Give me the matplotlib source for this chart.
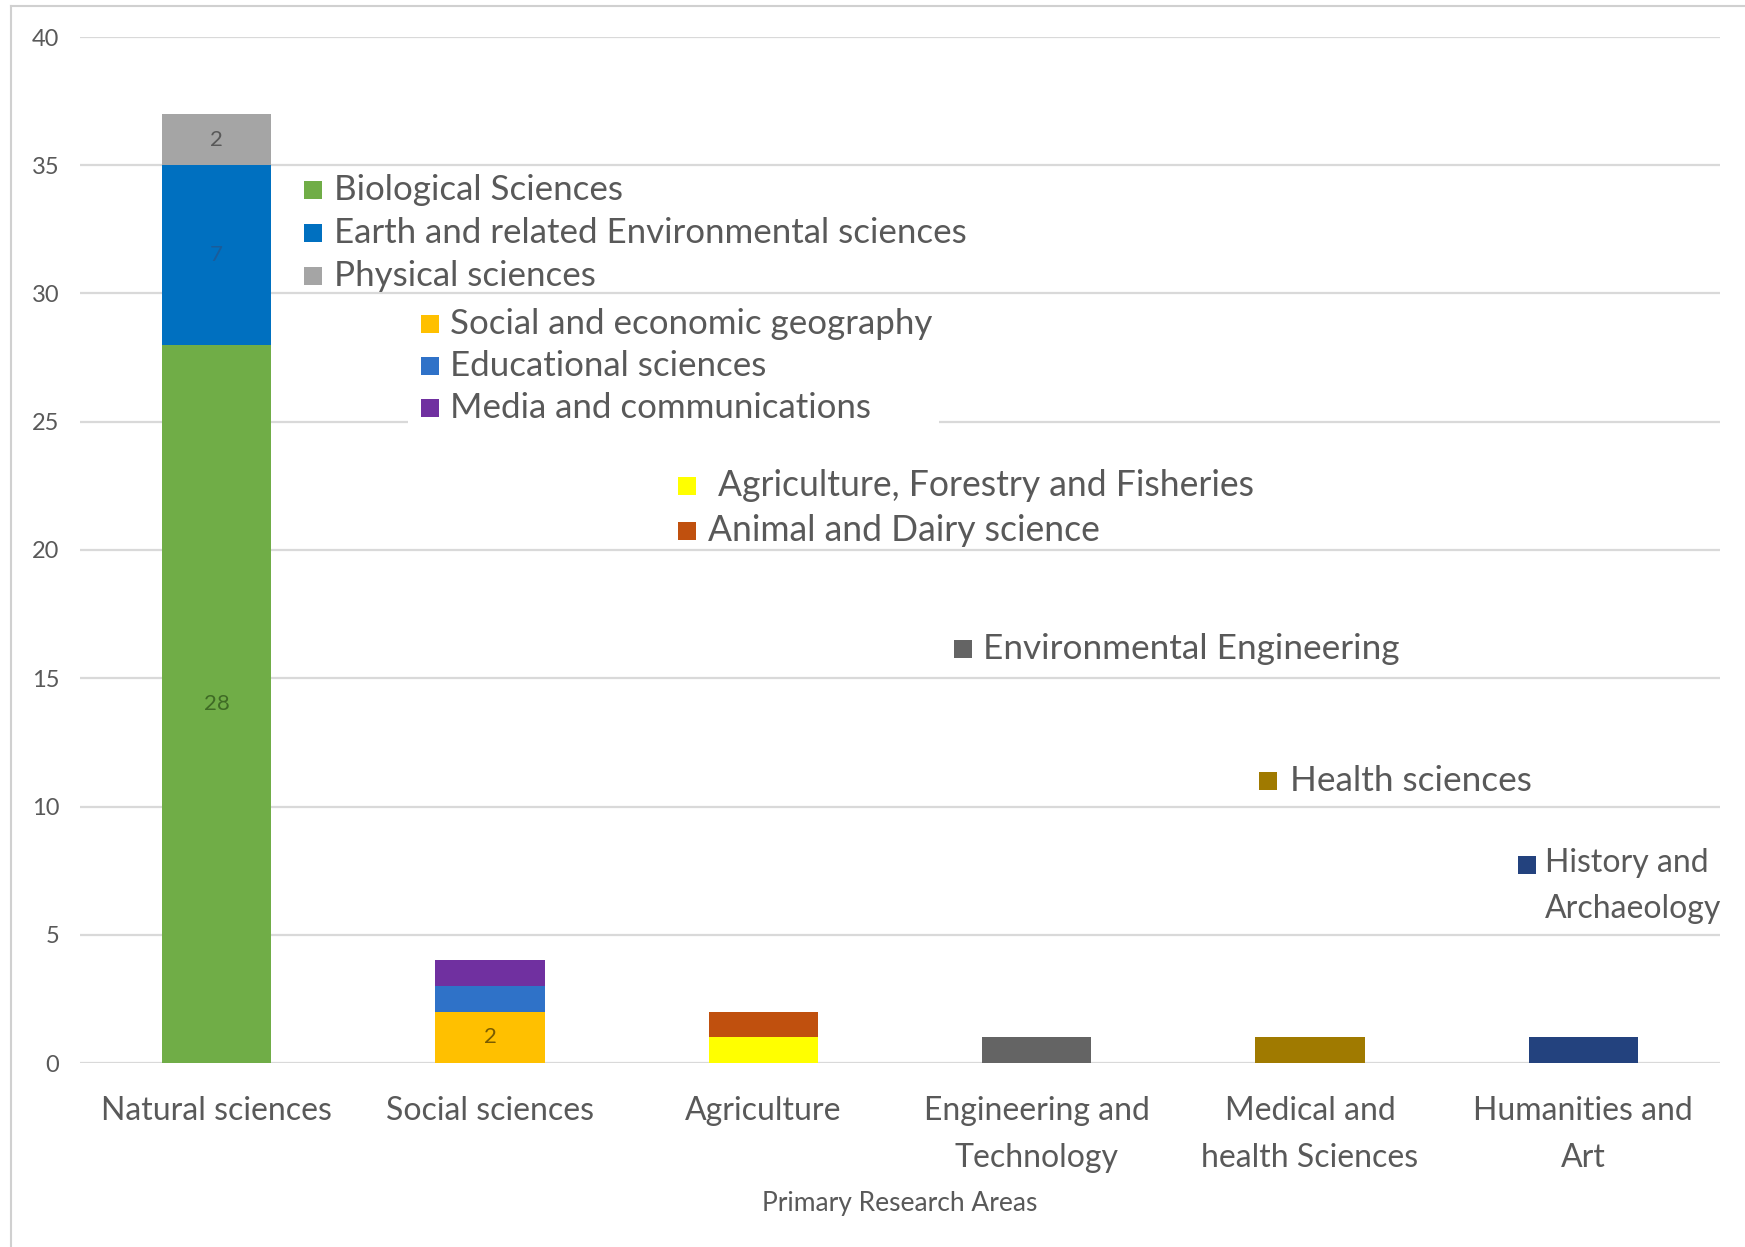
import matplotlib
matplotlib.use("Agg")
import matplotlib.pyplot as plt
from matplotlib.patches import Rectangle
from matplotlib.lines import Line2D
import numpy as np

# ---------------- data ----------------
categories = ["Natural sciences", "Social sciences", "Agriculture",
              "Engineering and\nTechnology", "Medical and\nhealth Sciences",
              "Humanities and\nArt"]

series_names = ["Biological Sciences", "Earth and related Environmental sciences",
                "Physical sciences", "Social and economic geography",
                "Educational sciences", "Media and communications",
                "Agriculture, Forestry and Fisheries", "Animal and Dairy science",
                "Environmental Engineering", "Health sciences",
                "History and\nArchaeology"]
series_category = [0, 0, 0, 1, 1, 1, 2, 2, 3, 4, 5]
series_values = [28, 7, 2, 2, 1, 1, 1, 1, 1, 1, 1]
series_show_label = [True, True, True, True, False, False, False, False, False, False, False]

y_ticks = [0, 5, 10, 15, 20, 25, 30, 35, 40]
x_title = "Primary Research Areas"

# ---------------- style ----------------
series_colors = ["#70AD47", "#0070C0", "#A5A5A5", "#FFC000", "#2F72C8", "#7030A0",
                 "#FFFF00", "#C0500E", "#646464", "#A07A00", "#23427E"]
label_colors = ["#3F6B25", "#1A5C9A", "#595959", "#7A5C00", "k", "k", "k", "k", "k", "k", "k"]
TXT = "#595959"
GRID = "#D9D9D9"
FONT = ["Lato", "DejaVu Sans"]
plt.rcParams["font.family"] = FONT

W, H = 1745, 1247
fig = plt.figure(figsize=(W / 100, H / 100), dpi=100)
fig.patch.set_facecolor("white")

# plot area in pixels
px_left, px_right, px_top, px_bottom = 80, 1720, 37, 1063
ax = fig.add_axes([px_left / W, 1 - px_bottom / H,
                   (px_right - px_left) / W, (px_bottom - px_top) / H])
ax.set_xlim(-0.5, len(categories) - 0.5)
ax.set_ylim(0, 40)
for s in ax.spines.values():
    s.set_visible(False)
ax.set_yticks(y_ticks)
ax.yaxis.grid(True, color=GRID, lw=1.6)
ax.set_axisbelow(True)
ax.tick_params(axis="y", length=0, pad=15, labelsize=17, labelcolor=TXT)
ax.tick_params(axis="x", length=0, pad=24, labelsize=23, labelcolor=TXT)
ax.set_xticks(range(len(categories)))
ax.set_xticklabels(categories, linespacing=1.7)
ax.axhline(0, color=GRID, lw=1.8, zorder=1)

# stacked bars
bottoms = np.zeros(len(categories))
for name, cat, val, col, show, lcol in zip(series_names, series_category, series_values,
                                           series_colors, series_show_label, label_colors):
    ax.bar(cat, val, width=0.4, bottom=bottoms[cat], color=col, zorder=2)
    if show:
        ax.text(cat, bottoms[cat] + val / 2, str(val), ha="center", va="center",
                fontsize=16, color=lcol, zorder=3)
    bottoms[cat] += val

ax.set_xlabel(x_title, fontsize=19, color=TXT, labelpad=13)

# white legend box interrupting the 25 gridline
fig.patches.append(Rectangle((408 / W, 1 - 432 / H), (939 - 408) / W, (432 - 300) / H,
                             transform=fig.transFigure, facecolor="white",
                             edgecolor="none", zorder=1))

# legend-like labels placed next to their bars (pixel positions)
leg_square_x = [313, 313, 313, 430, 430, 430, 687, 687, 963, 1268, 1527]
leg_text_x = [334, 334, 334, 450, 450, 450, 718, 708, 983, 1290, 1545]
leg_y = [190, 233, 276, 324, 366, 408, 486, 531, 649, 781, 865]
leg_size = [25.1, 25.1, 25.1, 25.1, 25.1, 25.1, 25.6, 25.6, 25.3, 25.3, 23]
sq = 18
for name, col, sx, tx, y, fs in zip(series_names, series_colors, leg_square_x,
                                    leg_text_x, leg_y, leg_size):
    fig.patches.append(Rectangle(((sx - sq / 2) / W, 1 - (y + sq / 2) / H), sq / W, sq / H,
                                 transform=fig.transFigure, facecolor=col,
                                 edgecolor="none", zorder=5))
    if "\n" in name:
        fig.text(tx / W, 1 - (y - 17) / H, name, ha="left", va="top",
                 fontsize=fs, color=TXT, zorder=6, linespacing=1.65)
    else:
        fig.text(tx / W, 1 - y / H, name, ha="left", va="center",
                 fontsize=fs, color=TXT, zorder=6)

# chart border (top & left visible)
fig.lines.append(Line2D([11 / W, 11 / W], [0, 1 - 6 / H], transform=fig.transFigure,
                        color="#D0D0D0", lw=1.5))
fig.lines.append(Line2D([11 / W, 1], [1 - 6 / H, 1 - 6 / H], transform=fig.transFigure,
                        color="#D0D0D0", lw=1.5))

fig.savefig("out.png", dpi=100, facecolor="white")
